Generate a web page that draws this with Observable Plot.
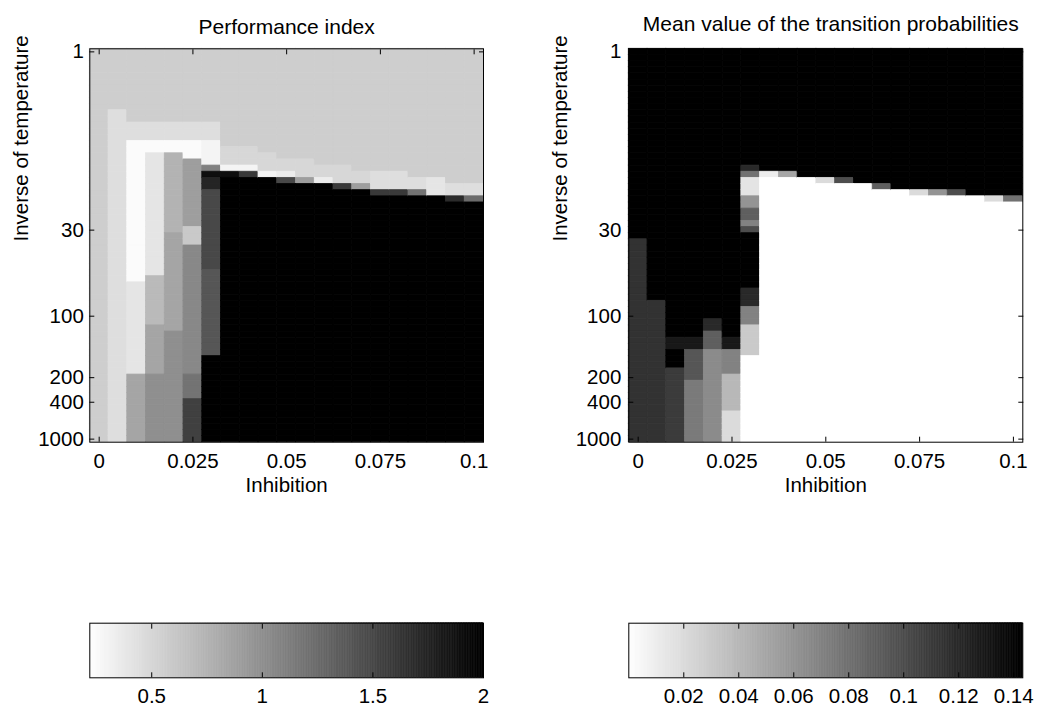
<!DOCTYPE html>
<html><head><meta charset="utf-8">
<script src="https://cdn.jsdelivr.net/npm/d3@7"></script>
<script src="https://cdn.jsdelivr.net/npm/@observablehq/plot@0.6"></script>
<style>
html,body{margin:0;padding:0;background:#fff;}
#root{position:relative;width:1039px;height:707px;overflow:hidden;background:#fff;}
#root > svg{position:absolute;}
</style></head><body><div id="root"></div>
<script>
// ---- data ----
const inhibition = [0,0.005,0.01,0.015,0.02,0.025,0.03,0.035,0.04,0.045,0.05,0.055,0.06,0.065,0.07,0.075,0.08,0.085,0.09,0.095,0.1];
const beta = [1,2,3,4,5,6,7,8,9,10,11,12,13,14,15,16,17,18,19,20,21,22,23,24,25,26,27,28,29,30,
  35,40,45,50,55,60,65,70,75,80,85,90,95,100,
  110,120,130,140,150,160,170,180,190,200,
  250,300,350,400,
  500,600,700,800,900,1000];
const xTicks = [0,0.025,0.05,0.075,0.1];
const yTicks = [1,30,100,200,400,1000];

// Performance index: per inhibition column, runs of [firstRow, lastRow, value] (row 0 = beta 1)
const perfRuns = [
  [[0,63,0.56]],
  [[0,9,0.56],[10,63,0.45]],
  [[0,11,0.56],[12,14,0.45],[15,37,0.25],[38,52,0.4],[53,63,0.85]],
  [[0,11,0.56],[12,14,0.45],[15,16,0.25],[17,36,0.4],[37,44,0.7],[45,52,0.85],[53,63,1.0]],
  [[0,11,0.56],[12,14,0.45],[15,16,0.25],[17,29,0.75],[30,45,0.85],[46,63,1.0]],
  [[0,11,0.56],[12,14,0.45],[15,17,0.25],[18,28,0.9],[29,31,0.6],[32,52,1.05],[53,56,1.2],[57,63,1.55]],
  [[0,11,0.56],[12,14,0.45],[15,18,0.3],[19,19,1.1],[20,20,1.9],[21,22,1.75],[23,35,1.5],[36,49,1.4],[50,63,2.0]],
  [[0,15,0.56],[16,18,0.5],[19,19,0.3],[20,20,1.9],[21,63,2]],
  [[0,15,0.56],[16,18,0.5],[19,19,0.3],[20,20,1.6],[21,63,2]],
  [[0,16,0.56],[17,19,0.5],[20,20,0.3],[21,63,2]],
  [[0,17,0.56],[18,19,0.5],[20,20,0.35],[21,21,1.5],[22,63,2]],
  [[0,17,0.56],[18,20,0.5],[21,21,0.9],[22,63,2]],
  [[0,18,0.56],[19,20,0.5],[21,21,0.35],[22,63,2]],
  [[0,18,0.56],[19,21,0.5],[22,22,1.6],[23,63,2]],
  [[0,19,0.56],[20,21,0.5],[22,22,0.9],[23,63,2]],
  [[0,19,0.56],[20,22,0.45],[23,23,1.6],[24,63,2]],
  [[0,19,0.56],[20,22,0.45],[23,23,1.6],[24,63,2]],
  [[0,20,0.56],[21,22,0.45],[23,23,1.2],[24,63,2]],
  [[0,20,0.56],[21,23,0.4],[24,63,2]],
  [[0,21,0.56],[22,23,0.45],[24,24,1.7],[25,63,2]],
  [[0,21,0.56],[22,23,0.45],[24,24,1.25],[25,63,2]]
];

// Mean value of the transition probabilities: same layout
const probRuns = [
  [[0,30,0.15],[31,63,0.115]],
  [[0,40,0.15],[41,63,0.115]],
  [[0,46,0.15],[47,48,0.13],[49,51,0.15],[52,63,0.11]],
  [[0,46,0.15],[47,48,0.13],[49,53,0.095],[54,63,0.075]],
  [[0,43,0.15],[44,45,0.12],[46,48,0.09],[49,63,0.065]],
  [[0,46,0.15],[47,48,0.13],[49,52,0.07],[53,58,0.04],[59,63,0.02]],
  [[0,18,0.15],[19,19,0.12],[20,20,0.08],[21,23,0.015],[24,25,0.06],[26,27,0.09],[28,28,0.07],[29,29,0.1],[30,38,0.15],[39,41,0.12],[42,44,0.07],[45,49,0.03],[50,63,0]],
  [[0,19,0.15],[20,20,0.01],[21,63,0]],
  [[0,19,0.15],[20,20,0.05],[21,63,0]],
  [[0,20,0.15],[21,63,0]],
  [[0,20,0.15],[21,21,0.02],[22,63,0]],
  [[0,20,0.15],[21,21,0.1],[22,63,0]],
  [[0,21,0.15],[22,63,0]],
  [[0,21,0.15],[22,22,0.09],[23,63,0]],
  [[0,22,0.15],[23,63,0]],
  [[0,22,0.15],[23,23,0.02],[24,63,0]],
  [[0,22,0.15],[23,23,0.06],[24,63,0]],
  [[0,22,0.15],[23,23,0.1],[24,63,0]],
  [[0,23,0.15],[24,63,0]],
  [[0,23,0.15],[24,24,0.02],[25,63,0]],
  [[0,23,0.15],[24,24,0.08],[25,63,0]]
];

const perfDomain = [0.22, 2];
const probDomain = [0, 0.1433];
const perfBarTicks = [0.5, 1, 1.5, 2];
const probBarTicks = [0.02, 0.04, 0.06, 0.08, 0.1, 0.12, 0.14];

const titles = ["Performance index", "Mean value of the transition probabilities"];
const xLabel = "Inhibition";
const yLabel = "Inverse of temperature";

// ---- build ----
function expand(runs) {
  const out = [];
  runs.forEach((col, c) => col.forEach(([r0, r1, v]) => {
    for (let r = r0; r <= r1; r++) out.push({x: inhibition[c], y: beta[r], v});
  }));
  return out;
}

const FONT = '"Liberation Sans", Arial, Helvetica, sans-serif';
const baseStyle = {fontFamily: FONT, fontSize: "20.5px", color: "#000", background: "transparent", overflow: "visible"};
const grayRange = ["#ffffff", "#000000"];
const noText = () => "";

function heatmap({runs, domain, title, titleDy, titleDx, width, marginLeft, marginRight, yPad}) {
  return Plot.plot({
    width, height: 500,
    marginLeft, marginRight, marginTop: 48.3, marginBottom: 58.3,
    style: baseStyle,
    x: {type: "band", domain: inhibition, padding: 0, round: false},
    y: {type: "band", domain: beta, padding: 0, round: false},
    color: {type: "linear", domain, range: grayRange, clamp: true},
    marks: [
      Plot.cell(expand(runs), {x: "x", y: "y", fill: "v", stroke: "v", strokeWidth: 0.8}),
      Plot.frame({stroke: "#000", strokeWidth: 1}),
      Plot.axisX({ticks: xTicks, tickSize: 0, tickPadding: 11.6, tickFormat: d => String(d), label: null}),
      Plot.axisX({ticks: xTicks, tickSize: -5, tickFormat: noText, label: null}),
      Plot.axisX({anchor: "top", ticks: xTicks, tickSize: -5, tickFormat: noText, label: null}),
      Plot.axisY({ticks: yTicks, tickSize: 0, tickPadding: yPad, tickFormat: d => String(d), label: null}),
      Plot.axisY({ticks: yTicks, tickSize: -5, tickFormat: noText, label: null}),
      Plot.axisY({anchor: "right", ticks: yTicks, tickSize: -5, tickFormat: noText, label: null}),
      Plot.text([xLabel], {text: d => d, frameAnchor: "bottom", dy: 43, lineAnchor: "middle"}),
      Plot.text([yLabel], {text: d => d, frameAnchor: "left", rotate: -90, dx: -68, dy: -4, lineAnchor: "middle"}),
      Plot.text([title], {text: d => d, frameAnchor: "top", dy: titleDy, dx: titleDx, lineAnchor: "middle", fontSize: 21})
    ]
  });
}

function colorbar({domain, ticks, width, marginLeft, marginRight}) {
  const n = 240;
  const steps = d3.range(n).map(i => {
    const a = domain[0] + (domain[1] - domain[0]) * i / n;
    const b = domain[0] + (domain[1] - domain[0]) * (i + 1) / n;
    return {a, b, m: (a + b) / 2};
  });
  return Plot.plot({
    width, height: 127,
    marginLeft, marginRight, marginTop: 42.7, marginBottom: 29.7,
    style: baseStyle,
    x: {type: "linear", domain},
    y: {domain: [0, 1], axis: null},
    color: {type: "linear", domain, range: grayRange, clamp: true},
    marks: [
      Plot.rect(steps, {x1: "a", x2: "b", y1: () => 0, y2: () => 1, fill: "m", stroke: "m", strokeWidth: 0.6}),
      Plot.frame({stroke: "#000", strokeWidth: 1}),
      Plot.axisX({ticks, tickSize: 0, tickPadding: 10.7, tickFormat: d => String(d), label: null}),
      Plot.axisX({ticks, tickSize: -5, tickFormat: noText, label: null}),
      Plot.axisX({anchor: "top", ticks, tickSize: -5, tickFormat: noText, label: null})
    ]
  });
}

const root = document.getElementById("root");
function place(svg, left, top) {
  svg.style.position = "absolute";
  svg.style.left = left + "px";
  svg.style.top = top + "px";
  root.appendChild(svg);
}

place(heatmap({runs: perfRuns, domain: perfDomain, title: titles[0], titleDy: -22, titleDx: 0,
  width: 540, marginLeft: 89.3, marginRight: 57, yPad: 6}), 0, 0);
place(heatmap({runs: probRuns, domain: probDomain, title: titles[1], titleDy: -24.5, titleDx: 5,
  width: 499, marginLeft: 88.3, marginRight: 16.7, yPad: 7.5}), 540, 0);
place(colorbar({domain: perfDomain, ticks: perfBarTicks, width: 540, marginLeft: 89.3, marginRight: 57}), 0, 580);
place(colorbar({domain: probDomain, ticks: probBarTicks, width: 499, marginLeft: 88.3, marginRight: 16.7}), 540, 580);
</script></body></html>
